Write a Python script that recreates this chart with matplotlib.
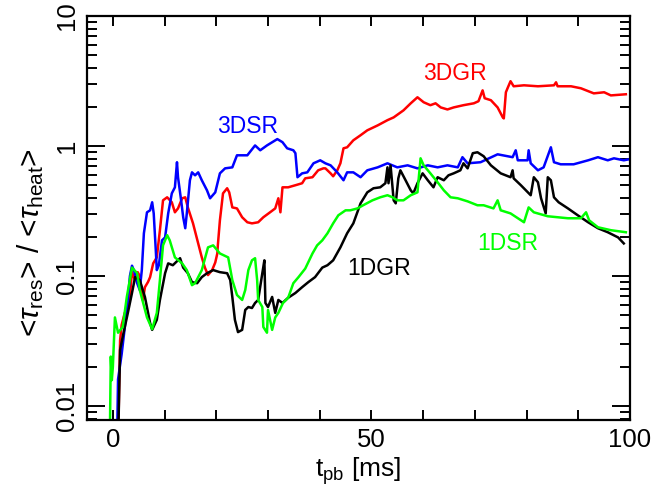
import numpy as np
import matplotlib
matplotlib.use("Agg")
import matplotlib.pyplot as plt
from matplotlib.ticker import LogLocator, FixedLocator, NullFormatter, FixedFormatter

plt.rcParams['font.family'] = ['Liberation Sans', 'DejaVu Sans']
plt.rcParams['mathtext.fontset'] = 'custom'
plt.rcParams['mathtext.rm'] = 'Liberation Sans'
plt.rcParams['mathtext.it'] = 'Liberation Sans:italic'

# ---- data: post-bounce time [ms] and <tau_res>/<tau_heat> ----
t_3dsr = [0.8, 1.0, 1.7, 2.3, 2.9, 3.3, 3.7, 4.1, 4.7, 5.2, 5.6, 6.0, 6.6, 7.2, 7.6, 7.9, 8.3, 8.5, 8.9,
          9.5, 10.1, 10.7, 11.4, 12.0, 12.4, 12.6, 13.2, 13.6, 14.0, 14.3, 14.9, 15.3, 15.9, 16.5, 17.2,
          18.2, 18.8, 19.8, 20.7, 21.7, 23.1, 24.0, 26.0, 27.5, 28.5, 29.8, 31.8, 32.8, 33.7, 34.9, 35.3,
          35.7, 36.6, 37.6, 38.8, 40.1, 41.1, 42.1, 43.4, 44.6, 45.3, 46.5, 47.9, 49.2, 51.2, 53.1, 55.0,
          57.0, 58.9, 60.9, 62.8, 64.7, 66.7, 67.6, 68.6, 71.1, 74.4, 77.3, 77.9, 78.3, 80.2, 80.4, 80.8,
          82.2, 83.3, 84.7, 85.3, 86.6, 89.1, 91.9, 93.8, 95.7, 96.9, 98.8, 99.8]
r_3dsr = [0.005, 0.016, 0.025, 0.040, 0.065, 0.10, 0.12, 0.11, 0.088, 0.078, 0.111, 0.213, 0.309, 0.32,
          0.369, 0.303, 0.158, 0.111, 0.121, 0.188, 0.198, 0.303, 0.432, 0.481, 0.75, 0.575, 0.382, 0.283,
          0.233, 0.303, 0.545, 0.627, 0.595, 0.627, 0.545, 0.456, 0.396, 0.44, 0.616, 0.673, 0.685, 0.848,
          0.848, 1.01, 0.927, 1.01, 1.13, 1.07, 0.96, 0.927, 0.88, 0.575, 0.616, 0.627, 0.736, 0.776,
          0.736, 0.71, 0.627, 0.545, 0.627, 0.627, 0.575, 0.65, 0.685, 0.736, 0.685, 0.71, 0.673, 0.71,
          0.685, 0.71, 0.685, 0.82, 0.736, 0.75, 0.863, 0.82, 0.927, 0.776, 0.776, 0.927, 0.736, 0.65,
          0.685, 0.977, 0.75, 0.723, 0.723, 0.776, 0.82, 0.776, 0.804, 0.776, 0.79]

t_3dgr = [1.0, 1.4, 1.7, 2.3, 2.7, 3.3, 3.7, 4.3, 4.8, 5.2, 5.8, 6.2, 6.8, 7.2, 7.8, 8.5, 9.1, 9.7, 10.5,
          11.4, 12.0, 12.6, 13.4, 14.0, 14.5, 15.5, 16.5, 17.2, 17.8, 18.4, 19.2, 19.8, 20.2, 20.3, 20.7,
          21.3, 22.1, 22.5, 23.1, 24.0, 25.0, 26.0, 26.9, 28.1, 29.1, 30.4, 31.4, 32.0, 32.4, 32.8, 33.9,
          35.3, 36.6, 37.2, 38.6, 39.7, 40.7, 41.1, 42.1, 42.6, 43.4, 44.0, 44.6, 45.3, 46.5, 47.9, 49.2,
          51.2, 53.1, 54.3, 56.2, 57.6, 58.9, 60.1, 61.4, 62.4, 63.4, 64.7, 65.9, 67.8, 69.8, 70.7, 71.5,
          71.9, 73.1, 74.4, 75.4, 75.6, 76.0, 76.4, 76.9, 77.5, 79.5, 82.2, 85.3, 85.7, 86.0, 88.6, 90.5,
          93.0, 95.0, 96.3, 99.2]
r_3dgr = [0.005, 0.032, 0.042, 0.052, 0.055, 0.071, 0.107, 0.093, 0.107, 0.10, 0.065, 0.082, 0.09, 0.098,
          0.125, 0.139, 0.225, 0.382, 0.403, 0.369, 0.309, 0.331, 0.396, 0.403, 0.337, 0.254, 0.178, 0.139,
          0.116, 0.1016, 0.111, 0.127, 0.149, 0.172, 0.268, 0.432, 0.473, 0.44, 0.337, 0.331, 0.283, 0.259,
          0.254, 0.259, 0.283, 0.309, 0.331, 0.396, 0.309, 0.481, 0.481, 0.499, 0.517, 0.564, 0.575, 0.65,
          0.673, 0.673, 0.616, 0.585, 0.65, 0.736, 0.96, 0.977, 1.106, 1.21, 1.32, 1.44, 1.58, 1.66, 1.88,
          2.13, 2.37, 2.17, 2.06, 2.13, 1.98, 1.91, 1.98, 2.06, 2.13, 2.21, 2.68, 2.33, 2.25, 1.98, 1.66,
          1.63, 2.59, 2.83, 3.15, 2.88, 2.93, 2.88, 2.93, 3.09, 2.88, 2.88, 2.78, 2.54, 2.59, 2.45, 2.50]

t_1dgr = [1.0, 1.4, 1.9, 2.9, 3.7, 4.3, 5.2, 6.2, 7.2, 7.6, 8.5, 9.1, 10.1, 10.7, 11.6, 13.0, 13.6, 14.5,
          15.3, 16.3, 17.2, 18.2, 19.4, 20.7, 22.1, 22.7, 23.1, 23.6, 24.2, 25.0, 25.6, 26.2, 26.9, 27.5,
          28.1, 28.9, 29.3, 29.5, 30.0, 30.8, 31.4, 32.0, 32.8, 33.9, 35.3, 36.6, 37.8, 39.1, 40.5, 41.5,
          42.6, 44.0, 45.3, 46.5, 47.9, 49.2, 50.4, 51.7, 52.7, 53.1, 53.3, 53.7, 54.3, 54.7, 55.2, 55.6,
          56.6, 57.6, 58.1, 58.9, 59.9, 60.9, 62.0, 62.8, 64.0, 64.9, 65.9, 67.2, 67.8, 68.6, 69.6, 70.5,
          71.7, 73.1, 75.0, 76.9, 77.3, 77.5, 78.9, 80.8, 81.4, 82.2, 82.8, 83.7, 84.1, 84.7, 85.3, 86.2,
          88.0, 89.9, 91.9, 93.8, 95.7, 97.7, 98.8]
r_1dgr = [0.005, 0.027, 0.034, 0.052, 0.074, 0.098, 0.093, 0.069, 0.0435, 0.0385, 0.046, 0.0654, 0.105,
          0.125, 0.121, 0.137, 0.116, 0.105, 0.0897, 0.088, 0.098, 0.105, 0.111, 0.107, 0.105, 0.093, 0.069,
          0.046, 0.037, 0.0385, 0.0548, 0.0577, 0.0567, 0.062, 0.0654, 0.105, 0.132, 0.062, 0.0577, 0.069,
          0.052, 0.0654, 0.062, 0.068, 0.074, 0.082, 0.0897, 0.098, 0.116, 0.121, 0.132, 0.166, 0.213,
          0.254, 0.362, 0.44, 0.473, 0.481, 0.517, 0.685, 0.517, 0.71, 0.382, 0.362, 0.564, 0.65, 0.545,
          0.456, 0.432, 0.517, 0.616, 0.545, 0.481, 0.575, 0.545, 0.595, 0.616, 0.65, 0.736, 0.673, 0.88,
          0.895, 0.834, 0.71, 0.616, 0.575, 0.65, 0.564, 0.499, 0.418, 0.575, 0.526, 0.396, 0.303, 0.575,
          0.545, 0.403, 0.369, 0.331, 0.293, 0.259, 0.233, 0.217, 0.198, 0.178]

t_1dsr = [-0.6, -0.4, -0.2, 0.0, 0.4, 1.0, 1.9, 2.7, 3.7, 4.7, 5.2, 6.6, 7.6, 8.5, 9.1, 9.7, 10.5, 11.0,
          12.0, 13.4, 14.3, 15.3, 15.9, 17.2, 18.4, 19.4, 20.7, 22.3, 23.1, 24.0, 25.0, 25.6, 26.2, 26.9,
          27.5, 27.9, 28.1, 28.9, 29.1, 29.8, 30.0, 30.8, 31.4, 32.0, 32.9, 33.9, 34.9, 35.9, 37.2, 38.6,
          39.5, 40.5, 41.5, 42.6, 43.6, 45.0, 45.9, 47.3, 48.4, 50.2, 51.7, 53.1, 54.1, 55.0, 56.2, 57.6,
          58.9, 59.5, 60.1, 61.4, 62.8, 64.0, 65.3, 66.7, 68.6, 70.5, 71.7, 73.6, 74.4, 75.0, 76.9, 79.5,
          80.4, 81.4, 84.1, 88.0, 90.5, 91.5, 92.1, 93.8, 96.3, 99.2]
r_1dsr = [0.005, 0.024, 0.0158, 0.020, 0.048, 0.0366, 0.0405, 0.069, 0.116, 0.105, 0.078, 0.048, 0.039,
          0.052, 0.093, 0.172, 0.206, 0.188, 0.139, 0.125, 0.111, 0.085, 0.088, 0.111, 0.166, 0.172, 0.149,
          0.139, 0.093, 0.0714, 0.0654, 0.078, 0.111, 0.132, 0.137, 0.093, 0.0654, 0.0577, 0.0405, 0.0366,
          0.0548, 0.0385, 0.048, 0.052, 0.062, 0.068, 0.088, 0.098, 0.114, 0.149, 0.172, 0.188, 0.213,
          0.254, 0.293, 0.32, 0.32, 0.331, 0.35, 0.382, 0.403, 0.418, 0.403, 0.382, 0.382, 0.418, 0.44,
          0.804, 0.71, 0.616, 0.526, 0.456, 0.403, 0.396, 0.375, 0.35, 0.35, 0.331, 0.382, 0.32, 0.303,
          0.259, 0.337, 0.309, 0.288, 0.278, 0.278, 0.309, 0.268, 0.237, 0.225, 0.217]

series = [
    ("3DSR", t_3dsr, r_3dsr, "#0000ff", (26.0, 1.42)),
    ("3DGR", t_3dgr, r_3dgr, "#ff0000", (66.1, 3.62)),
    ("1DGR", t_1dgr, r_1dgr, "#000000", (51.4, 0.115)),
    ("1DSR", t_1dsr, r_1dsr, "#00ff00", (76.3, 0.179)),
]

x_ticks_labeled = [0, 50, 100]
y_ticks = [0.01, 0.1, 1, 10]
y_tick_labels = ["0.01", "0.1", "1", "10"]

fig = plt.figure(figsize=(6.52, 4.93), dpi=100)
ax = fig.add_axes([87 / 652, 1 - 420 / 493, (630 - 87) / 652, (420 - 16) / 493])

lookup = {s[0]: s for s in series}
for name in ["3DGR", "3DSR", "1DGR", "1DSR"]:
    _, t, r, c, _ = lookup[name]
    ax.plot(t, r, color=c, lw=1.8, solid_joinstyle="round")

for name, t, r, c, (tx, ty) in series:
    ax.text(tx, ty, name, color=c, fontsize=16.5, ha="center", va="center")

ax.set_yscale("log")
ax.set_xlim(-5, 100)
ax.set_ylim(0.0078, 10)

ax.xaxis.set_major_locator(FixedLocator(x_ticks_labeled))
ax.xaxis.set_minor_locator(FixedLocator(np.arange(10, 100, 10)))
ax.yaxis.set_major_locator(FixedLocator(y_ticks))
ax.yaxis.set_major_formatter(FixedFormatter(y_tick_labels))
ax.yaxis.set_minor_locator(LogLocator(base=10, subs=np.arange(2, 10), numticks=20))
ax.yaxis.set_minor_formatter(NullFormatter())

ax.tick_params(which="both", direction="in", top=True, right=True, width=1.4, labelsize=18.5, pad=6)
ax.tick_params(axis="x", which="both", length=7)
ax.tick_params(axis="y", which="major", length=13)
ax.tick_params(axis="y", which="minor", length=7)
for lab in ax.get_yticklabels():
    lab.set_rotation(90)
    lab.set_va("center")

for sp in ax.spines.values():
    sp.set_linewidth(1.6)

ax.set_xlabel(r"t$_{\rm pb}$ [ms]", fontsize=19, labelpad=2)
fig.text(31 / 652, 1 - 243 / 493, r"<$\tau_{\rm res}$> / <$\tau_{\rm heat}$>", rotation=90,
         fontsize=21.5, ha="center", va="center")

fig.savefig("out.png", dpi=100)
